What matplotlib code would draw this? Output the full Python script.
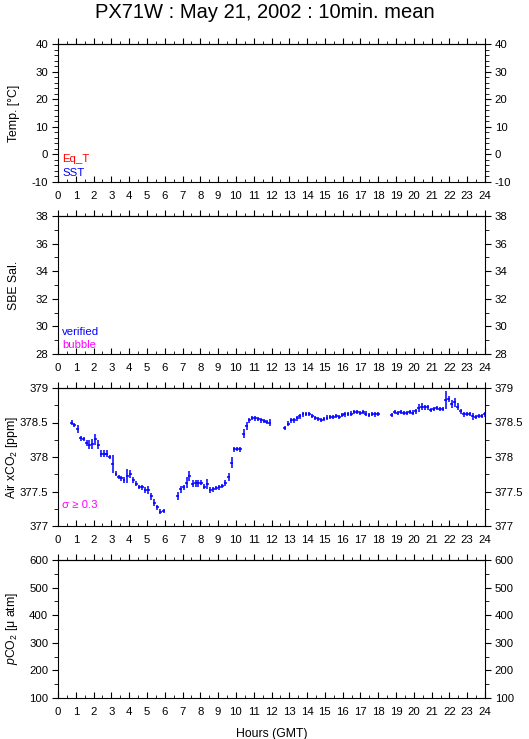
import numpy as np
import matplotlib
matplotlib.use('Agg')
import matplotlib.pyplot as plt
from matplotlib.ticker import MultipleLocator

plt.rcParams['font.family'] = ['Liberation Sans', 'DejaVu Sans']
plt.rcParams['font.size'] = 8.2
plt.rcParams['mathtext.fontset'] = 'custom'
plt.rcParams['mathtext.rm'] = 'Liberation Sans'
plt.rcParams['mathtext.it'] = 'Liberation Sans:italic'

# Air xCO2, 10 min means (hours GMT, ppm, std)
hours = [0.77, 0.92, 1.10, 1.27, 1.44, 1.61, 1.76, 1.93, 2.10, 2.25, 2.43, 2.60,
         2.75, 2.92, 3.07, 3.26, 3.41, 3.56, 3.71, 3.90, 4.06, 4.23, 4.40, 4.57,
         4.74, 4.91, 5.06, 5.24, 5.41, 5.58, 5.75, 5.94,
         6.72, 6.89, 7.06, 7.23, 7.38, 7.57, 7.73, 7.88, 8.05, 8.22, 8.39, 8.56,
         8.73, 8.90, 9.06, 9.23, 9.40, 9.59, 9.76, 9.91, 10.07, 10.24, 10.43, 10.60,
         10.75, 10.92, 11.09, 11.25, 11.42, 11.59, 11.74, 11.91,
         12.74, 12.93, 13.10, 13.27, 13.44, 13.60, 13.77, 13.94, 14.11, 14.28, 14.45, 14.62,
         14.79, 14.95, 15.12, 15.29, 15.46, 15.63, 15.80, 15.97, 16.13, 16.30, 16.47, 16.64,
         16.81, 16.98, 17.15, 17.31, 17.48, 17.65, 17.82, 17.99,
         18.76, 18.93, 19.09, 19.26, 19.43, 19.60, 19.77, 19.94, 20.11, 20.27, 20.44, 20.61,
         20.78, 20.95, 21.12, 21.29, 21.45, 21.62, 21.79, 21.96, 22.13, 22.30, 22.47, 22.64,
         22.81, 22.97, 23.14, 23.31, 23.48, 23.65, 23.82, 23.99]

xco2 = [378.50, 378.46, 378.41, 378.27, 378.26, 378.20, 378.18, 378.19, 378.26, 378.18, 378.05, 378.05,
        378.05, 378.00, 377.90, 377.76, 377.71, 377.69, 377.67, 377.73, 377.75, 377.67, 377.61, 377.57,
        377.56, 377.52, 377.52, 377.43, 377.34, 377.27, 377.21, 377.22,
        377.43, 377.53, 377.56, 377.63, 377.72, 377.61, 377.62, 377.62, 377.63, 377.57, 377.61, 377.52,
        377.53, 377.55, 377.56, 377.58, 377.62, 377.71, 377.92, 378.11, 378.11, 378.11, 378.34, 378.45,
        378.53, 378.57, 378.56, 378.55, 378.53, 378.52, 378.51, 378.50,
        378.42, 378.48, 378.53, 378.53, 378.56, 378.59, 378.62, 378.62, 378.62, 378.59, 378.57, 378.55,
        378.54, 378.55, 378.57, 378.58, 378.58, 378.59, 378.58, 378.61, 378.62, 378.62, 378.63, 378.65,
        378.65, 378.64, 378.65, 378.63, 378.61, 378.62, 378.62, 378.62,
        378.61, 378.65, 378.64, 378.65, 378.64, 378.64, 378.65, 378.64, 378.66, 378.71, 378.73, 378.72,
        378.72, 378.68, 378.70, 378.71, 378.70, 378.69, 378.83, 378.84, 378.77, 378.79, 378.73, 378.66,
        378.62, 378.62, 378.62, 378.59, 378.58, 378.59, 378.60, 378.62]

xco2_std = [0.04, 0.03, 0.06, 0.035, 0.035, 0.045, 0.07, 0.07, 0.08, 0.06, 0.05, 0.05,
            0.05, 0.025, 0.13, 0.04, 0.03, 0.035, 0.04, 0.10, 0.055, 0.04, 0.035, 0.03,
            0.035, 0.04, 0.06, 0.05, 0.045, 0.035, 0.035, 0.03,
            0.06, 0.045, 0.035, 0.08, 0.07, 0.05, 0.05, 0.05, 0.04, 0.04, 0.075, 0.04,
            0.035, 0.035, 0.035, 0.035, 0.04, 0.055, 0.08, 0.04, 0.03, 0.035, 0.06, 0.055,
            0.035, 0.03, 0.035, 0.03, 0.03, 0.03, 0.03, 0.045,
            0.03, 0.035, 0.035, 0.03, 0.04, 0.04, 0.035, 0.03, 0.03, 0.03, 0.03, 0.03,
            0.03, 0.03, 0.035, 0.035, 0.03, 0.03, 0.035, 0.03, 0.035, 0.03, 0.03, 0.03,
            0.03, 0.03, 0.03, 0.03, 0.03, 0.03, 0.035, 0.03,
            0.03, 0.03, 0.03, 0.03, 0.03, 0.03, 0.03, 0.035, 0.035, 0.06, 0.05, 0.04,
            0.035, 0.035, 0.03, 0.03, 0.03, 0.03, 0.13, 0.05, 0.055, 0.06, 0.05, 0.035,
            0.035, 0.03, 0.03, 0.05, 0.035, 0.03, 0.03, 0.035]

half_window = 5 / 60.0  # +-5 min

# panel settings: ylabel, ylim, major, minor
panels = [
    ('Temp. [°C]', (-10, 40), 10, 2),
    ('SBE Sal.', (28, 38), 2, 1),
    ('Air x$\\mathrm{CO_2}$ [ppm]', (377, 379), 0.5, 0.25),
    ('$p$CO$_2$ [μ atm]', (100, 600), 100, 50),
]

W, H = 529, 739
fig = plt.figure(figsize=(W / 100, H / 100), dpi=100)
fig.text(0.5, 1 - 12 / H, 'PX71W : May 21, 2002 : 10min. mean',
         ha='center', va='center', fontsize=14.5)

axes = []
for i, (lab, ylim, maj, mnr) in enumerate(panels):
    top = 44 + 172 * i
    ax = fig.add_axes([58 / W, 1 - (top + 138) / H, 427 / W, 138 / H])
    ax.set_xlim(0, 24)
    ax.set_ylim(*ylim)
    ax.xaxis.set_major_locator(MultipleLocator(1))
    ax.xaxis.set_minor_locator(MultipleLocator(0.5))
    ax.yaxis.set_major_locator(MultipleLocator(maj))
    ax.yaxis.set_minor_locator(MultipleLocator(mnr))
    ax.tick_params(axis='x', which='both', direction='in', top=False, pad=6.5)
    ax.tick_params(axis='x', which='major', length=4)
    ax.tick_params(axis='x', which='minor', length=2.5)
    ax.tick_params(axis='y', which='both', direction='out', left=True, right=True,
                   labelleft=True, labelright=True, pad=3)
    ax.tick_params(axis='y', which='major', length=4)
    ax.tick_params(axis='y', which='minor', length=3)
    ax.yaxis.set_major_formatter(plt.FuncFormatter(lambda v, p: '%g' % v))
    sec = ax.secondary_xaxis('top')
    sec.xaxis.set_major_locator(MultipleLocator(1))
    sec.xaxis.set_minor_locator(MultipleLocator(0.5))
    sec.tick_params(which='both', direction='out', labeltop=False)
    sec.tick_params(which='major', length=4)
    sec.tick_params(which='minor', length=2.5)
    for s in list(ax.spines.values()) + [sec.spines['top']]:
        s.set_linewidth(0.8)
    ax.set_ylabel(lab, fontsize=8.8)
    ax.yaxis.set_label_coords(-0.09, 0.5)
    axes.append(ax)

# legends / flags
axes[0].text(0.01, 0.17, 'Eq_T', color='red', transform=axes[0].transAxes, va='center')
axes[0].text(0.01, 0.065, 'SST', color='blue', transform=axes[0].transAxes, va='center')
axes[1].text(0.01, 0.16, 'verified', color='blue', transform=axes[1].transAxes, va='center')
axes[1].text(0.01, 0.065, 'bubble', color='magenta', transform=axes[1].transAxes, va='center')
axes[2].text(0.01, 0.155, 'σ ≥ 0.3', color='magenta', transform=axes[2].transAxes, va='center')

axes[2].errorbar(hours, xco2, yerr=xco2_std, xerr=half_window, fmt='none',
                 ecolor='blue', elinewidth=1.1, capsize=0)

axes[3].set_xlabel('Hours (GMT)', fontsize=8.8)
axes[3].xaxis.set_label_coords(0.5, -0.215)

fig.savefig('out.png', dpi=100)
